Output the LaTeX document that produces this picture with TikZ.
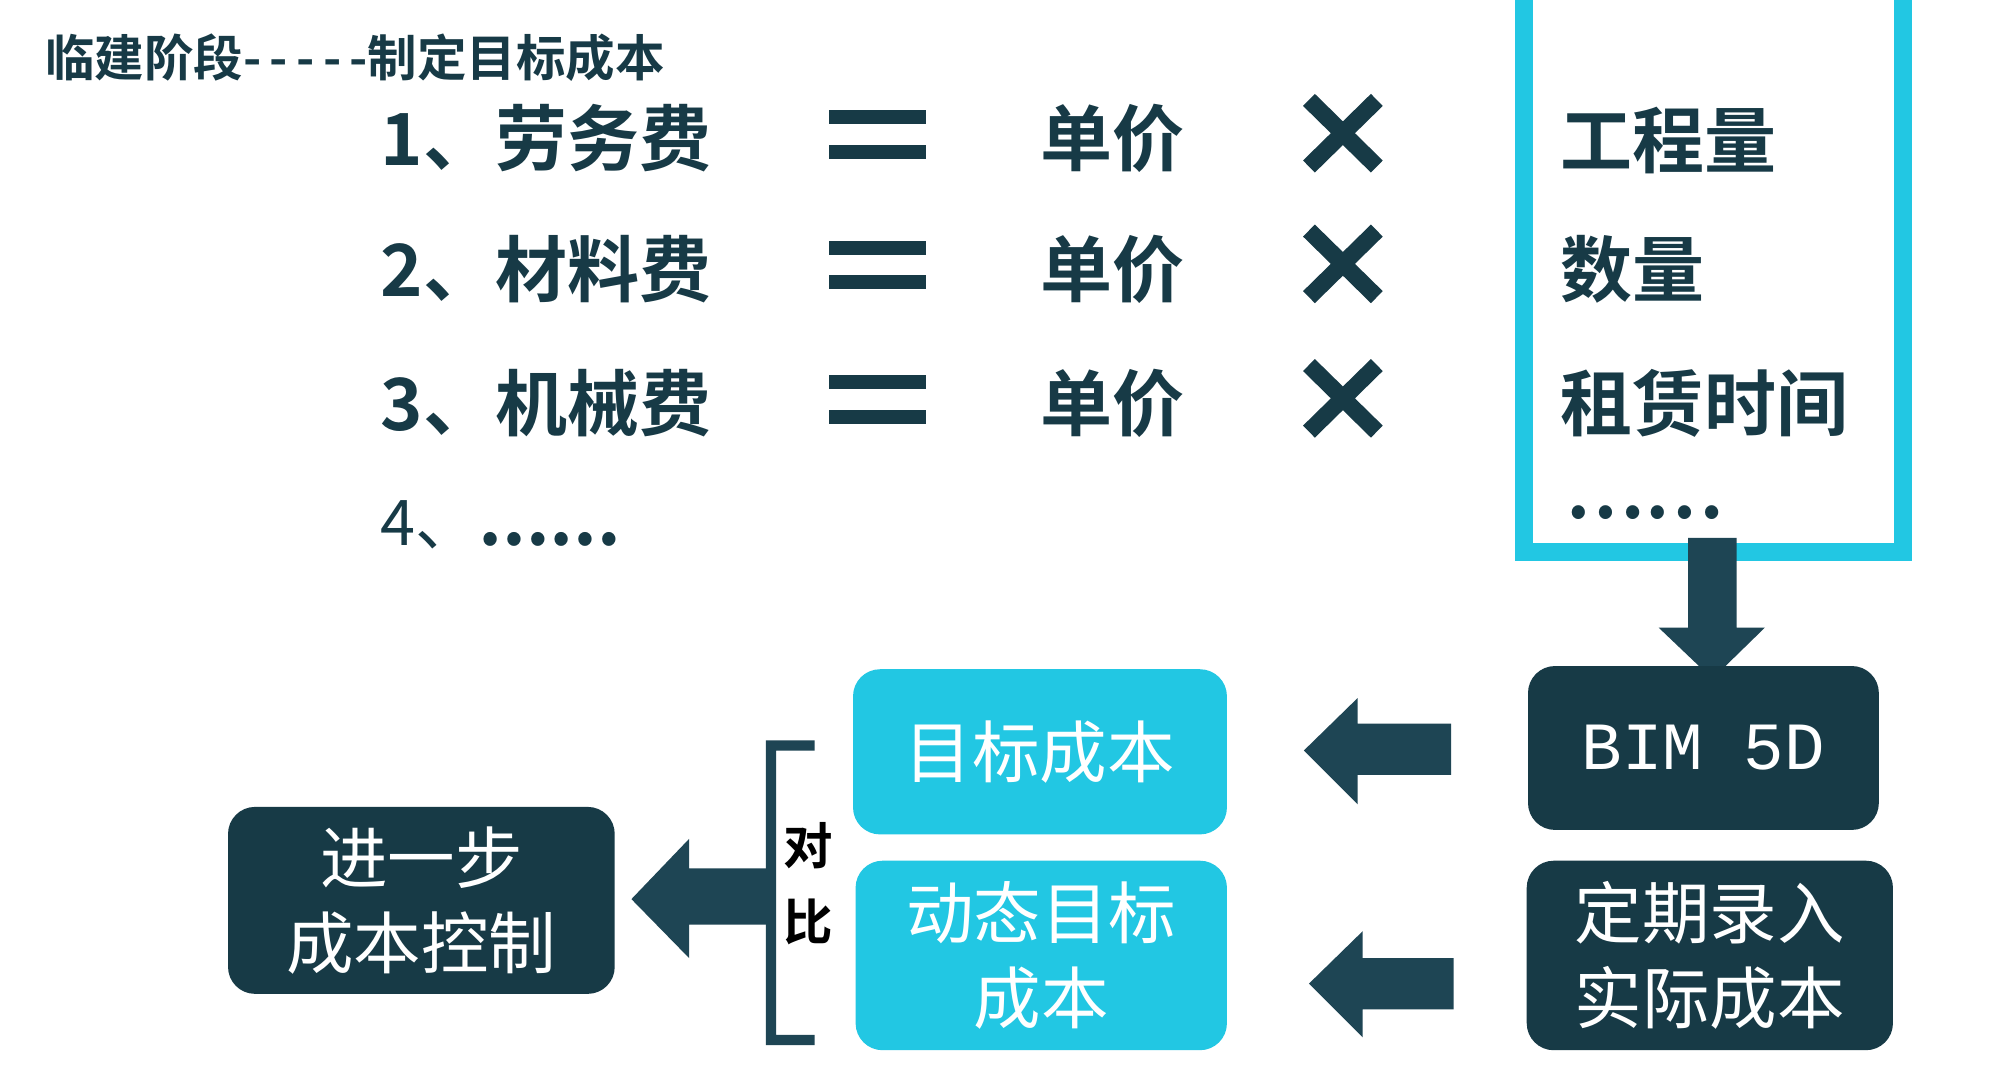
\documentclass[tikz,border=0pt]{standalone}
\usepackage{fontspec}
\newfontfamily\cjk{Noto Sans CJK SC}
\newfontfamily\cjkb{Noto Sans CJK SC Bold}
\newfontfamily\mono{Liberation Mono}
\definecolor{dk}{HTML}{173A46}
\definecolor{ar}{HTML}{1E4554}
\definecolor{cy}{HTML}{22C7E3}
\begin{document}
\begin{tikzpicture}[x=0.02cm,y=-0.02cm,
  big/.style={font=\cjkb\fontsize{32}{34}\selectfont,text=dk,anchor=west,inner sep=0},
  dbox/.style={fill=dk,rounded corners=12pt,text=white,align=center,font=\cjk\fontsize{30}{38}\selectfont},
  cbox/.style={fill=cy,rounded corners=12pt,text=white,align=center,font=\cjk\fontsize{30}{38}\selectfont},
  bar/.style={fill=dk}]
\fill[white] (0,0) rectangle (1560,833);
\useasboundingbox (0,0) rectangle (1560,833);
\node[anchor=west,inner sep=0,text=dk,font=\cjkb\fontsize{22}{24}\selectfont] (title) at (35,45) {临建阶段-\,-\,-\,-\,-制定目标成本};
\foreach \t/\y/\n in {1、劳务费/108/a,2、材料费/210/b,3、机械费/315/c}{
  \node[big] (l\n) at (297,\y) {\t};
  \fill[dk] (647,\y-22) rectangle (723,\y-11);
  \fill[dk] (647,\y+5) rectangle (723,\y+16);
  \node[big] (p\n) at (812,\y) {单价};
  \draw[dk,line width=7.5] (1022,\y-30) -- (1075,\y+22) (1075,\y-30) -- (1022,\y+22);
}
\node[anchor=west,inner sep=0,text=dk,font=\cjk\fontsize{28}{30}\selectfont] (ld) at (297,410) {4、\textbf{……}};
\draw[cy,line width=8] (1190,-10) -- (1190,431) -- (1486,431) -- (1486,-10);
\node[big] (q1) at (1218,110) {工程量};
\node[big] (q2) at (1218,210) {数量};
\node[big] (q3) at (1218,315) {租赁时间};
\node[big] (q4) at (1222,400) {……};
\fill[ar] (1318,420) -- (1356,420) -- (1356,490) -- (1378,490) -- (1337,530) -- (1295,490) -- (1318,490) -- cycle;
\node[dbox,minimum width=5.48cm,minimum height=2.56cm,font=\mono\fontsize{30}{34}\selectfont] (bim) at (1330,584) {BIM 5D};
\node[dbox,minimum width=5.72cm,minimum height=2.96cm] (real) at (1335,746) {定期录入\\实际成本};
\node[cbox,minimum width=5.84cm,minimum height=2.58cm] (tgt) at (812,587) {目标成本};
\node[cbox,minimum width=5.8cm,minimum height=2.96cm] (dyn) at (813,746) {动态目标\\成本};
\node[dbox,minimum width=6.04cm,minimum height=2.92cm] (ctl) at (329,703) {进一步\\成本控制};
\fill[ar] (1133,565) -- (1060,565) -- (1060,545) -- (1018,586) -- (1060,628) -- (1060,605) -- (1133,605) -- cycle;
\fill[ar] (1135,748) -- (1064,748) -- (1064,727) -- (1022,768) -- (1064,810) -- (1064,788) -- (1135,788) -- cycle;
\fill[ar] (598,578) -- (636,578) -- (636,586) -- (606,586) -- (606,808) -- (636,808) -- (636,816) -- (598,816) -- cycle;
\fill[ar] (598,678) -- (538,678) -- (538,655) -- (493,702) -- (538,748) -- (538,722) -- (598,722) -- cycle;
\node[font=\cjkb\fontsize{22}{24}\selectfont,align=center,inner sep=0] (cmp) at (631,690) {对\\[10pt]比};
\end{tikzpicture}
\end{document}
